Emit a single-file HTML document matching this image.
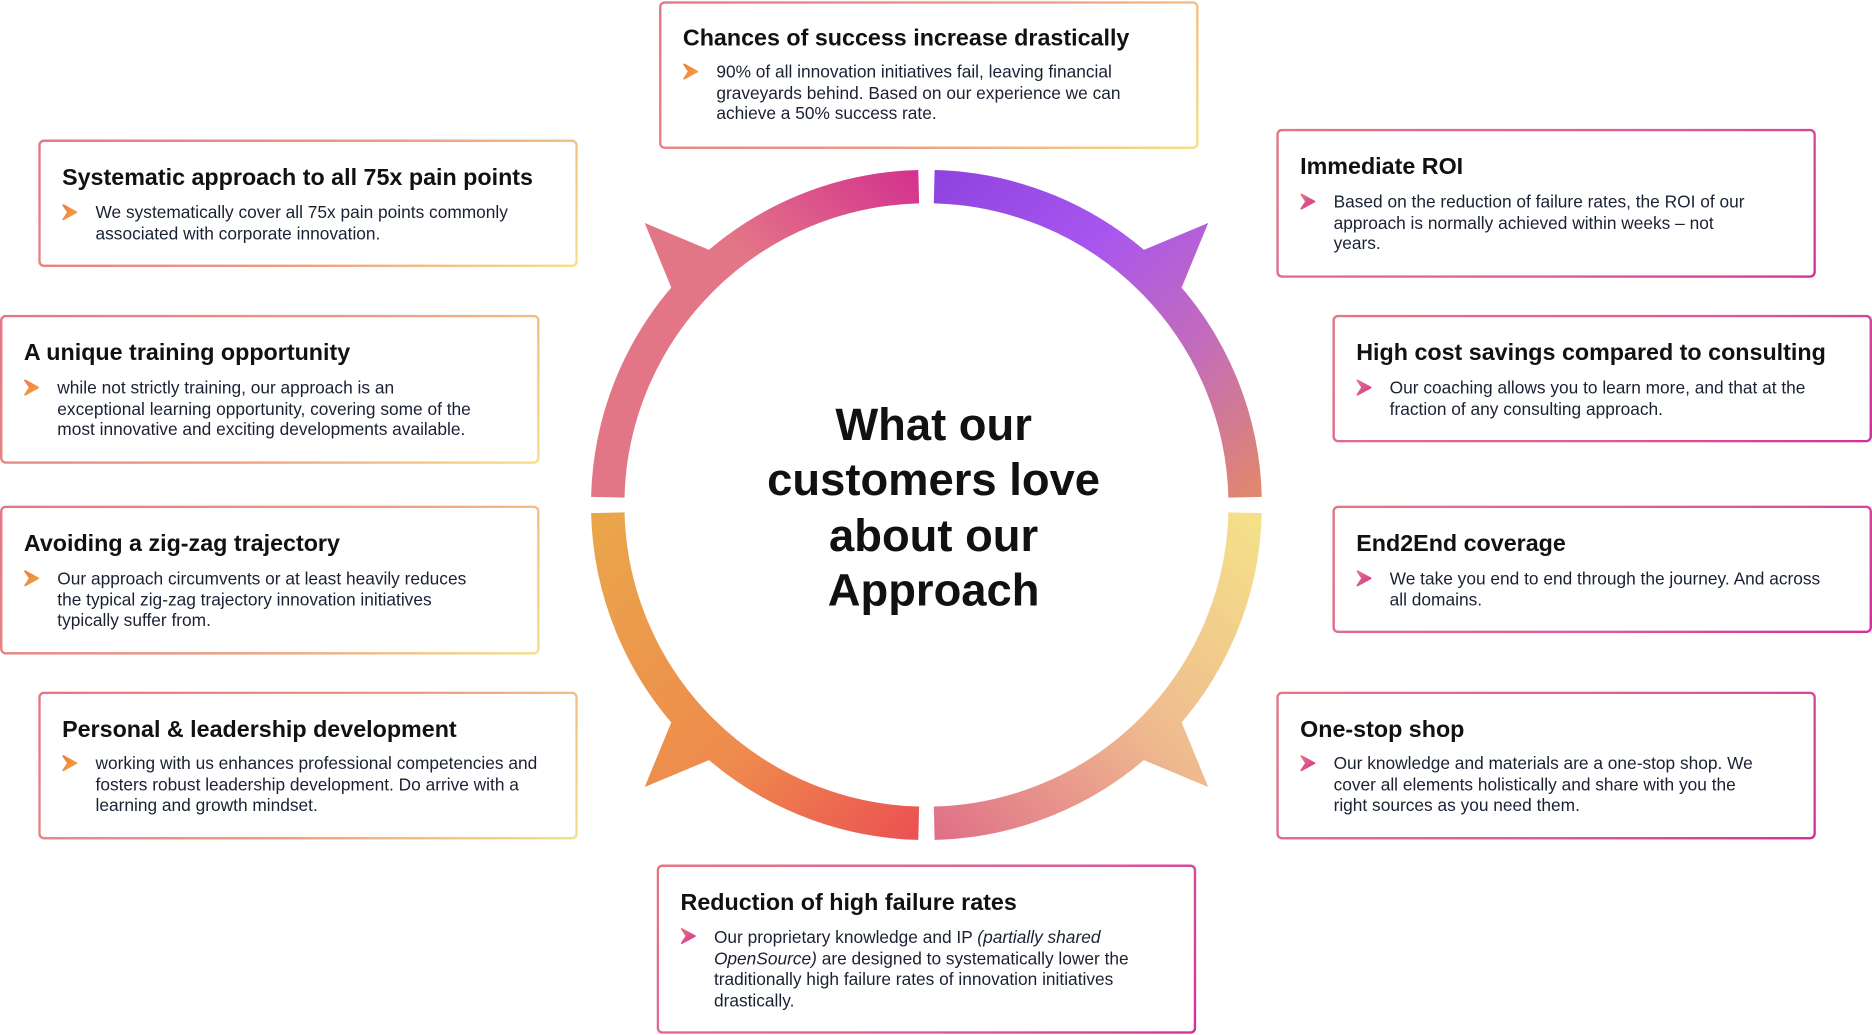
<!DOCTYPE html>
<html><head><meta charset="utf-8"><style>
html,body{margin:0;padding:0;background:#fff;}
body{width:1872px;height:1035px;overflow:hidden;position:relative;}
#w{position:absolute;left:0;top:0;width:1568px;height:868px;transform-origin:0 0;transform:scale(1.19388,1.19240);font-family:"Liberation Sans",sans-serif;}
.b{position:absolute;border:2px solid transparent;border-radius:5px;box-sizing:border-box;}
.l{background:linear-gradient(#fff,#fff) padding-box,linear-gradient(135deg,#e37686 0%,#ec9c82 55%,#f5e08a 100%) border-box;}
.r{background:linear-gradient(#fff,#fff) padding-box,linear-gradient(135deg,#e37686 0%,#dc5a98 60%,#d0309a 100%) border-box;}
.t{position:absolute;font-weight:bold;font-size:19.5px;color:#111;white-space:nowrap;line-height:24px;}
.x{position:absolute;font-size:14.5px;line-height:17.6px;color:#1a2133;white-space:nowrap;margin-top:2px;}
.c{position:absolute;width:14px;height:16px;}
.ctr{position:absolute;left:582px;top:334px;width:400px;text-align:center;font-weight:bold;font-size:38px;line-height:46.3px;color:#111;}
</style></head><body><div id="w">
<svg width="1568" height="868" style="position:absolute;left:0;top:0">
<defs>
<linearGradient id="g1" gradientUnits="userSpaceOnUse" x1="509" y1="417" x2="770" y2="150"><stop offset="0" stop-color="#e37686"/><stop offset=".6" stop-color="#e37686"/><stop offset="1" stop-color="#d4338f"/></linearGradient>
<linearGradient id="g2" gradientUnits="userSpaceOnUse" x1="782" y1="150" x2="1043" y2="417"><stop offset="0" stop-color="#8f44df"/><stop offset=".35" stop-color="#a855ef"/><stop offset=".7" stop-color="#c46db8"/><stop offset="1" stop-color="#e0876f"/></linearGradient>
<linearGradient id="g3" gradientUnits="userSpaceOnUse" x1="1043" y1="430" x2="782" y2="697"><stop offset="0" stop-color="#f5e08a"/><stop offset=".5" stop-color="#efba8e"/><stop offset="1" stop-color="#e07088"/></linearGradient>
<linearGradient id="g4" gradientUnits="userSpaceOnUse" x1="509" y1="430" x2="770" y2="697"><stop offset="0" stop-color="#eaa54a"/><stop offset=".6" stop-color="#ee8a4d"/><stop offset="1" stop-color="#eb5252"/></linearGradient>
<linearGradient id="chO" x1="0" y1="0" x2="1" y2="1"><stop offset="0" stop-color="#f07b3a"/><stop offset="1" stop-color="#f0a848"/></linearGradient>
<linearGradient id="chP" x1="0" y1="0" x2="1" y2="1"><stop offset="0" stop-color="#e37686"/><stop offset="1" stop-color="#d4338f"/></linearGradient>
</defs>
<g fill="none" stroke-width="28">
<path d="M509.1 417 A267 267 0 0 1 769.5 156.6" stroke="url(#g1)"/>
<path d="M782.5 156.6 A267 267 0 0 1 1042.9 417" stroke="url(#g2)"/>
<path d="M1042.9 430 A267 267 0 0 1 782.5 690.4" stroke="url(#g3)"/>
<path d="M769.5 690.4 A267 267 0 0 1 509.1 430" stroke="url(#g4)"/>
</g>
<polygon points="540,187 595,210 592,239 563,243" fill="url(#g1)"/>
<polygon points="1012,187 957,210 960,239 989,243" fill="url(#g2)"/>
<polygon points="1012,660 957,637 960,608 989,604" fill="url(#g3)"/>
<polygon points="540,660 595,637 592,608 563,604" fill="url(#g4)"/>
</svg>
<div class="ctr">What our<br>customers love<br>about our<br>Approach</div>

<div class="b l" style="left:552px;top:1px;width:452px;height:124px"></div>
<div class="t" style="left:572px;top:20px">Chances of success increase drastically</div>
<svg class="c" style="left:572px;top:52px"><path d="M1 2 L12 8 L1 14 L5 8 Z" fill="url(#chO)" stroke="url(#chO)" stroke-width="1.5" stroke-linejoin="round"/></svg>
<div class="x" style="left:600px;top:51px">90% of all innovation initiatives fail, leaving financial<br>graveyards behind. Based on our experience we can<br>achieve a 50% success rate.</div>

<div class="b l" style="left:32px;top:117px;width:452px;height:107px"></div>
<div class="t" style="left:52px;top:137px">Systematic approach to all 75x pain points</div>
<svg class="c" style="left:52px;top:170px"><path d="M1 2 L12 8 L1 14 L5 8 Z" fill="url(#chO)" stroke="url(#chO)" stroke-width="1.5" stroke-linejoin="round"/></svg>
<div class="x" style="left:80px;top:169px">We systematically cover all 75x pain points commonly<br>associated with corporate innovation.</div>

<div class="b l" style="left:0px;top:264px;width:452px;height:125px"></div>
<div class="t" style="left:20px;top:284px">A unique training opportunity</div>
<svg class="c" style="left:20px;top:317px"><path d="M1 2 L12 8 L1 14 L5 8 Z" fill="url(#chO)" stroke="url(#chO)" stroke-width="1.5" stroke-linejoin="round"/></svg>
<div class="x" style="left:48px;top:316px">while not strictly training, our approach is an<br>exceptional learning opportunity, covering some of the<br>most innovative and exciting developments available.</div>

<div class="b l" style="left:0px;top:424px;width:452px;height:125px"></div>
<div class="t" style="left:20px;top:444px">Avoiding a zig-zag trajectory</div>
<svg class="c" style="left:20px;top:477px"><path d="M1 2 L12 8 L1 14 L5 8 Z" fill="url(#chO)" stroke="url(#chO)" stroke-width="1.5" stroke-linejoin="round"/></svg>
<div class="x" style="left:48px;top:476px">Our approach circumvents or at least heavily reduces<br>the typical zig-zag trajectory innovation initiatives<br>typically suffer from.</div>

<div class="b l" style="left:32px;top:580px;width:452px;height:124px"></div>
<div class="t" style="left:52px;top:600px">Personal &amp; leadership development</div>
<svg class="c" style="left:52px;top:632px"><path d="M1 2 L12 8 L1 14 L5 8 Z" fill="url(#chO)" stroke="url(#chO)" stroke-width="1.5" stroke-linejoin="round"/></svg>
<div class="x" style="left:80px;top:631px">working with us enhances professional competencies and<br>fosters robust leadership development. Do arrive with a<br>learning and growth mindset.</div>

<div class="b r" style="left:550px;top:725px;width:452px;height:142px"></div>
<div class="t" style="left:570px;top:745px">Reduction of high failure rates</div>
<svg class="c" style="left:570px;top:777px"><path d="M1 2 L12 8 L1 14 L5 8 Z" fill="url(#chP)" stroke="url(#chP)" stroke-width="1.5" stroke-linejoin="round"/></svg>
<div class="x" style="left:598px;top:777px">Our proprietary knowledge and IP <i>(partially shared</i><br><i>OpenSource)</i> are designed to systematically lower the<br>traditionally high failure rates of innovation initiatives<br>drastically.</div>

<div class="b r" style="left:1069px;top:108px;width:452px;height:125px"></div>
<div class="t" style="left:1089px;top:128px">Immediate ROI</div>
<svg class="c" style="left:1089px;top:161px"><path d="M1 2 L12 8 L1 14 L5 8 Z" fill="url(#chP)" stroke="url(#chP)" stroke-width="1.5" stroke-linejoin="round"/></svg>
<div class="x" style="left:1117px;top:160px">Based on the reduction of failure rates, the ROI of our<br>approach is normally achieved within weeks – not<br>years.</div>

<div class="b r" style="left:1116px;top:264px;width:452px;height:107px"></div>
<div class="t" style="left:1136px;top:284px">High cost savings compared to consulting</div>
<svg class="c" style="left:1136px;top:317px"><path d="M1 2 L12 8 L1 14 L5 8 Z" fill="url(#chP)" stroke="url(#chP)" stroke-width="1.5" stroke-linejoin="round"/></svg>
<div class="x" style="left:1164px;top:316px">Our coaching allows you to learn more, and that at the<br>fraction of any consulting approach.</div>

<div class="b r" style="left:1116px;top:424px;width:452px;height:107px"></div>
<div class="t" style="left:1136px;top:444px">End2End coverage</div>
<svg class="c" style="left:1136px;top:477px"><path d="M1 2 L12 8 L1 14 L5 8 Z" fill="url(#chP)" stroke="url(#chP)" stroke-width="1.5" stroke-linejoin="round"/></svg>
<div class="x" style="left:1164px;top:476px">We take you end to end through the journey. And across<br>all domains.</div>

<div class="b r" style="left:1069px;top:580px;width:452px;height:124px"></div>
<div class="t" style="left:1089px;top:600px">One-stop shop</div>
<svg class="c" style="left:1089px;top:632px"><path d="M1 2 L12 8 L1 14 L5 8 Z" fill="url(#chP)" stroke="url(#chP)" stroke-width="1.5" stroke-linejoin="round"/></svg>
<div class="x" style="left:1117px;top:631px">Our knowledge and materials are a one-stop shop. We<br>cover all elements holistically and share with you the<br>right sources as you need them.</div>
</div></body></html>
